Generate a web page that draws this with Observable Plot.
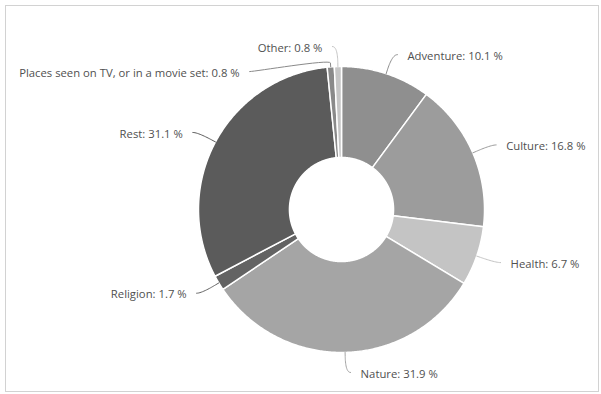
<!DOCTYPE html>
<html><head><meta charset="utf-8">
<script src="https://cdn.jsdelivr.net/npm/d3@7"></script>
<script src="https://cdn.jsdelivr.net/npm/@observablehq/plot@0.6"></script>
<style>
html,body{margin:0;padding:0;background:#fff;}
#wrap{position:relative;width:601px;height:394px;overflow:hidden;}
#frame{position:absolute;left:5px;top:5px;width:592px;height:385px;border:1px solid #d2d2d2;pointer-events:none;}
#wrap svg{position:absolute;left:0;top:0;}
</style></head><body>
<div id="wrap"><div id="frame"></div></div>
<script>
const categories = ["Adventure", "Culture", "Health", "Nature", "Religion", "Rest", "Places seen on TV, or in a movie set", "Other"];
const values = [10.1, 16.8, 6.7, 31.9, 1.7, 31.1, 0.8, 0.8];
const colors = ["#8f8f8f", "#9c9c9c", "#c4c4c4", "#a5a5a5", "#636363", "#5b5b5b", "#8a8a8a", "#c6c6c6"];

const labels = categories.map((c, i) => `${c}: ${values[i]} %`);

const W = 601, H = 394;
const R_PX = 143;               // outer radius in pixels
const px = 1 / R_PX;            // one pixel in data units
const innerR = 0.364;
const mL = 198, mT = 66;
const mR = W - mL - 2 * R_PX, mB = H - mT - 2 * R_PX;

const pie = d3.pie().sort(null).value(d => d)(values);

// slice polygons (data space, unit radius, y up)
const slicePts = [];
pie.forEach((p, i) => {
  const name = categories[i];
  const span = p.endAngle - p.startAngle;
  const n = Math.max(2, Math.ceil(span / (Math.PI / 360)));
  const pts = [];
  for (let k = 0; k <= n; k++) { const a = p.startAngle + span * k / n; pts.push([Math.sin(a), Math.cos(a)]); }
  for (let k = n; k >= 0; k--) { const a = p.startAngle + span * k / n; pts.push([innerR * Math.sin(a), innerR * Math.cos(a)]); }
  pts.push(pts[0]);
  pts.forEach(([x, y]) => slicePts.push({name, x, y}));
});

// label layout (Highcharts-like)
const labelR = 1 + 20 * px;
const gap = 25 * px;
const items = pie.map((p, i) => {
  const mid = (p.startAngle + p.endAngle) / 2;
  return {name: categories[i], label: labels[i], mid, right: mid < Math.PI, y: labelR * Math.cos(mid)};
});
for (const side of [true, false]) {
  const g = items.filter(d => d.right === side).sort((a, b) => b.y - a.y);
  for (let k = 1; k < g.length; k++) if (g[k].y > g[k - 1].y - gap) g[k].y = g[k - 1].y - gap;
}
const connPts = [];
items.forEach(d => {
  const s = d.right ? 1 : -1;
  d.cx = s * Math.sqrt(Math.max(0, labelR * labelR - d.y * d.y));
  d.ax = d.cx + s * 5 * px;
  d.tx = d.ax + s * 10 * px;
  const ex = Math.sin(d.mid), ey = Math.cos(d.mid);
  const br = 1 + 4 * px;
  const bx = br * Math.sin(d.mid), by = br * Math.cos(d.mid);
  const p0 = [d.ax, d.y], p1 = [d.ax - s * 5 * px, d.y], p2 = [2 * bx - ex, 2 * by - ey], p3 = [bx, by];
  for (let k = 0; k <= 16; k++) {
    const t = k / 16, u = 1 - t;
    const x = u*u*u*p0[0] + 3*u*u*t*p1[0] + 3*u*t*t*p2[0] + t*t*t*p3[0];
    const y = u*u*u*p0[1] + 3*u*u*t*p1[1] + 3*u*t*t*p2[1] + t*t*t*p3[1];
    connPts.push({name: d.name, x, y});
  }
  connPts.push({name: d.name, x: ex, y: ey});
});

const chart = Plot.plot({
  width: W, height: H,
  marginLeft: mL, marginRight: mR, marginTop: mT, marginBottom: mB,
  x: {domain: [-1, 1], axis: null},
  y: {domain: [-1, 1], axis: null},
  color: {domain: categories, range: colors},
  style: {fontFamily: "'Open Sans', sans-serif", background: "transparent", overflow: "visible"},
  marks: [
    Plot.line(slicePts, {x: "x", y: "y", z: "name", fill: "name", stroke: "white", strokeWidth: 1.5, strokeLinejoin: "round", curve: "linear"}),
    Plot.line(connPts, {x: "x", y: "y", z: "name", stroke: "name", strokeWidth: 1, curve: "linear"}),
    Plot.text(items.filter(d => d.right), {x: "tx", y: "y", text: "label", textAnchor: "start", dy: 1.5, fill: "#505050", fontSize: 11.3}),
    Plot.text(items.filter(d => !d.right), {x: "tx", y: "y", text: "label", textAnchor: "end", dy: 1.5, fill: "#505050", fontSize: 11.3})
  ]
});
document.getElementById("wrap").appendChild(chart);
</script>
</body></html>
